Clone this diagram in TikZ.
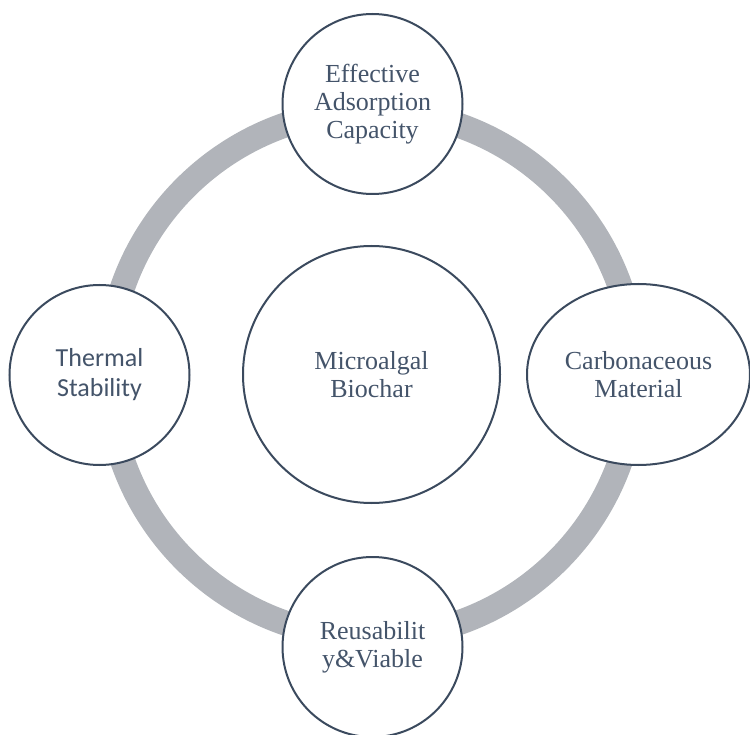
\documentclass[tikz,border=0pt]{standalone}
\usepackage{fontspec}
\setmainfont{Liberation Serif}
\newfontfamily\calibrifont{Carlito}
\usetikzlibrary{shapes.geometric}
\definecolor{ringgray}{HTML}{B1B4BA}
\definecolor{edgenavy}{HTML}{3B4A5E}
\definecolor{textnavy}{HTML}{44546A}
\begin{document}
\begin{tikzpicture}[x=1pt,y=-1pt,
  bubble/.style={circle, draw=edgenavy, line width=2pt, fill=white,
    text=textnavy, align=center, minimum size=180pt, inner sep=0pt,
    font=\fontsize{26}{28}\selectfont},
  oval/.style={ellipse, draw=edgenavy, line width=2pt, fill=white,
    text=textnavy, align=center, minimum width=223pt, minimum height=181pt,
    inner sep=0pt, font=\fontsize{26}{28}\selectfont},
  sansbubble/.style={bubble, font=\calibrifont\fontsize{26}{30}\selectfont}]
\useasboundingbox (0,0) rectangle (750,735);
% the grey ring linking the four properties
\draw[ringgray, line width=25pt] (371.5,374) circle[radius=263.5];
% central concept
\node[bubble, minimum size=257pt] (hub) at (371.5,374.5) {Microalgal\\Biochar};
% surrounding properties
\node[bubble] (adsorb) at (372.5,104) {Effective\\Adsorption\\Capacity};
\node[sansbubble] (thermal) at (99.5,375) {Thermal\\Stability};
\node[oval] (carbon) at (638.5,374.5) {Carbonaceous\\Material};
\node[bubble] (reuse) at (372.5,647) {Reusabilit\\y\&Viable};
\end{tikzpicture}
\end{document}
